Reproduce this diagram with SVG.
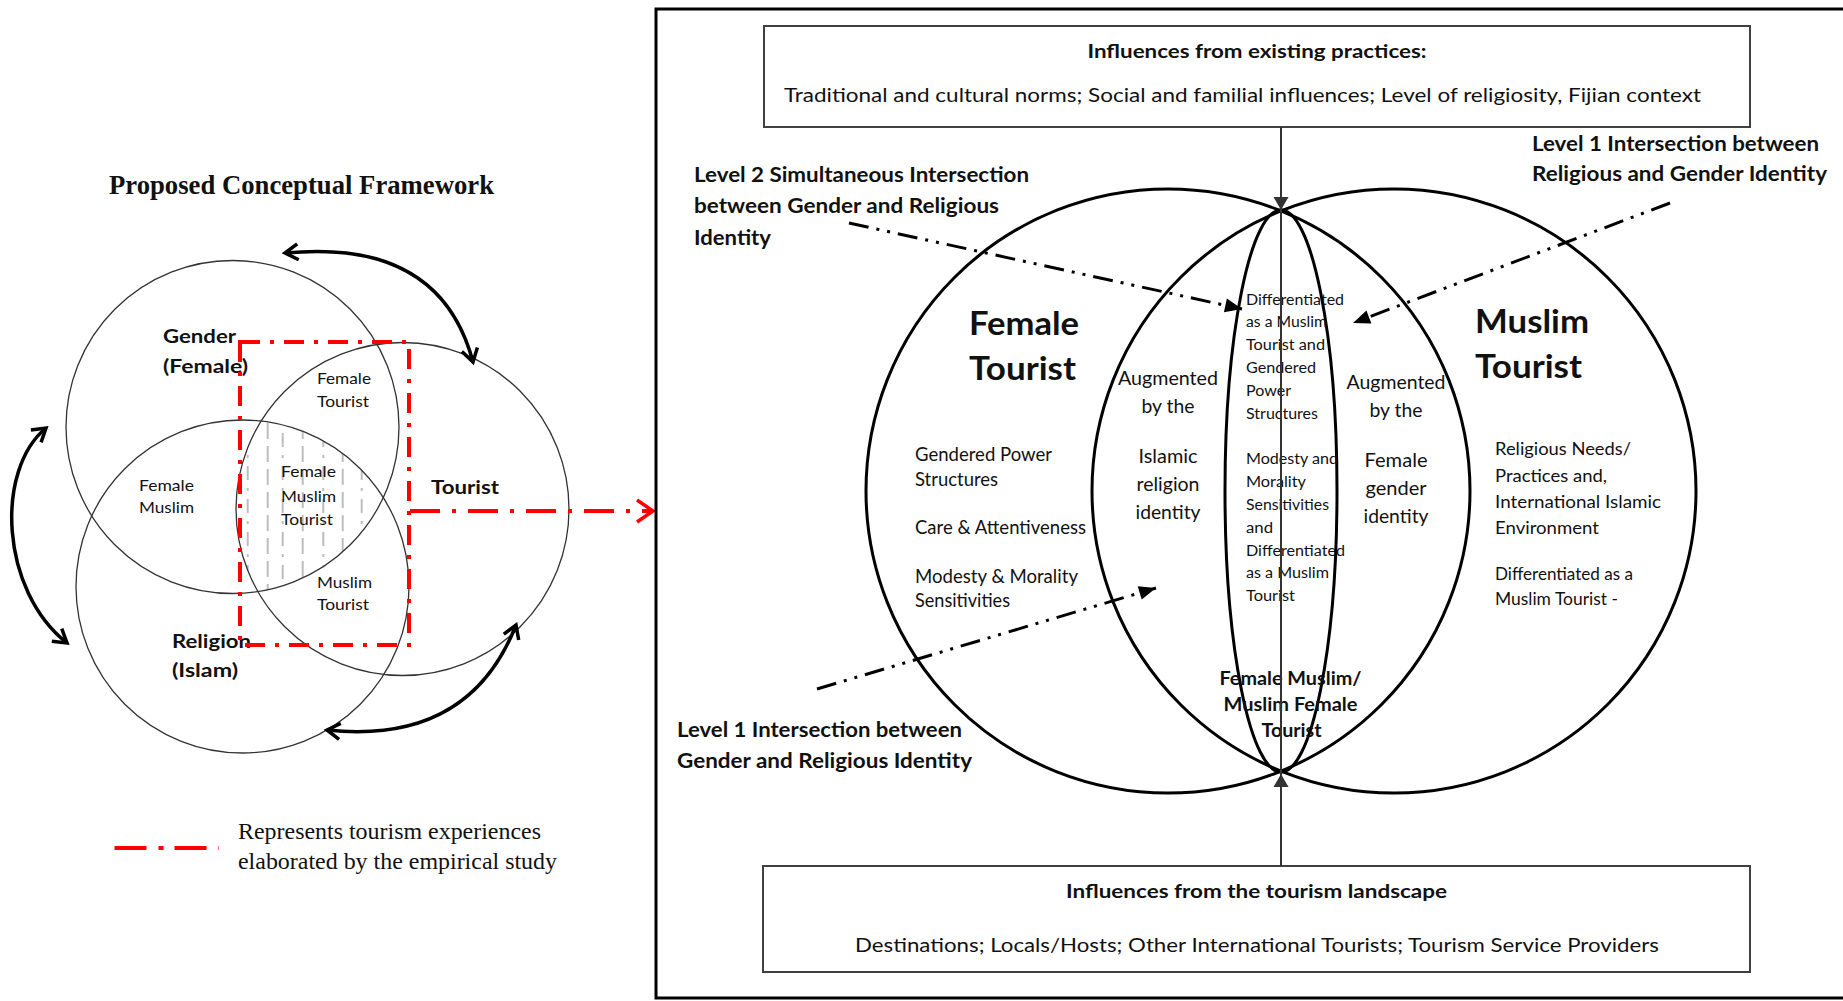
<svg xmlns="http://www.w3.org/2000/svg" width="1843" height="1001" viewBox="0 0 1843 1001">
  <style>
    .sans { font-family: Lato, 'Liberation Sans', sans-serif; fill: #111; }
    .b { font-weight: bold; }
    .serif { font-family: 'Liberation Serif', 'Times New Roman', serif; fill: #111; }
    .venn { fill: none; stroke: #333; stroke-width: 1.3; }
    .big { fill: none; stroke: #000; stroke-width: 3; }
    .box { fill: #fff; stroke: #404040; stroke-width: 2; }
    .red { fill: none; stroke: #ff0000; stroke-width: 4; }
    .curve { fill: none; stroke: #000; stroke-width: 3.5; marker-start: url(#chev); marker-end: url(#chev); }
    .dd { fill: none; stroke: #000; stroke-width: 3; stroke-dasharray: 20 8 3 8 3 8; marker-end: url(#tri); }
    .hatch { stroke: #bdbdbd; stroke-width: 2; }
    .mid { text-anchor: middle; }
  </style>
  <defs>
    <marker id="chev" markerUnits="userSpaceOnUse" orient="auto-start-reverse" overflow="visible" refX="0" refY="0">
      <path d="M-13,-8 L0,0 L-13,8" fill="none" stroke="#000" stroke-width="3.5"/>
    </marker>
    <marker id="redchev" markerUnits="userSpaceOnUse" orient="auto" overflow="visible" refX="0" refY="0">
      <path d="M-16,-11 L0,0 L-16,11" fill="none" stroke="#ff0000" stroke-width="3.5"/>
    </marker>
    <marker id="tri" markerUnits="userSpaceOnUse" orient="auto" overflow="visible" refX="0" refY="0">
      <path d="M-17,-7 L0,0 L-17,7 z" fill="#000"/>
    </marker>
    <marker id="gtri" markerUnits="userSpaceOnUse" orient="auto" overflow="visible" refX="0" refY="0">
      <path d="M-13,-7.5 L0,0 L-13,7.5 z" fill="#333"/>
    </marker>
    <clipPath id="cG"><circle cx="232.5" cy="427" r="166.5"/></clipPath>
    <clipPath id="cR"><circle cx="242.5" cy="586.5" r="166.5"/></clipPath>
    <clipPath id="cT"><circle cx="402.5" cy="509" r="166.5"/></clipPath>
  </defs>

  <rect width="1843" height="1001" fill="#fff"/>

  <!-- ===== Left panel: proposed framework ===== -->
  <text class="serif b" x="109" y="194" font-size="26.5" textLength="385" lengthAdjust="spacingAndGlyphs">Proposed Conceptual Framework</text>

  <!-- hatching of the triple overlap -->
  <g id="overlap-hatch" clip-path="url(#cG)">
    <g clip-path="url(#cR)">
      <g clip-path="url(#cT)">
        <line class="hatch" x1="247.7" y1="400" x2="247.7" y2="640" stroke-dasharray="14 8 3 8"/>
        <line class="hatch" x1="267.7" y1="400" x2="267.7" y2="640" stroke-dasharray="16 7"/>
        <line class="hatch" x1="282.7" y1="400" x2="282.7" y2="640" stroke-dasharray="14 8 3 8"/>
        <line class="hatch" x1="302.7" y1="400" x2="302.7" y2="640" stroke-dasharray="16 7"/>
        <line class="hatch" x1="323.3" y1="400" x2="323.3" y2="640" stroke-dasharray="14 8 3 8"/>
        <line class="hatch" x1="342.7" y1="400" x2="342.7" y2="640" stroke-dasharray="16 7"/>
        <line class="hatch" x1="361.7" y1="400" x2="361.7" y2="640" stroke-dasharray="14 8 3 8"/>
      </g>
    </g>
  </g>

  <g id="gender-circle"><circle class="venn" cx="232.5" cy="427" r="166.5"/></g>
  <g id="tourist-circle"><circle class="venn" cx="402.5" cy="509" r="166.5"/></g>
  <g id="religion-circle"><circle class="venn" cx="242.5" cy="586.5" r="166.5"/></g>

  <g id="venn-labels">
    <text class="sans b" x="163" y="343" font-size="19" textLength="73" lengthAdjust="spacingAndGlyphs">Gender</text>
    <text class="sans b" x="163" y="373" font-size="19" textLength="85" lengthAdjust="spacingAndGlyphs">(Female)</text>
    <text class="sans" x="317" y="384" font-size="15" textLength="54" lengthAdjust="spacingAndGlyphs">Female</text>
    <text class="sans" x="317" y="406.5" font-size="15" textLength="52" lengthAdjust="spacingAndGlyphs">Tourist</text>
    <text class="sans" x="139" y="491" font-size="15" textLength="55" lengthAdjust="spacingAndGlyphs">Female</text>
    <text class="sans" x="139" y="512.5" font-size="15" textLength="55" lengthAdjust="spacingAndGlyphs">Muslim</text>
    <text class="sans" x="281" y="477" font-size="15" textLength="55" lengthAdjust="spacingAndGlyphs">Female</text>
    <text class="sans" x="281" y="502" font-size="15" textLength="55" lengthAdjust="spacingAndGlyphs">Muslim</text>
    <text class="sans" x="281" y="524.5" font-size="15" textLength="52" lengthAdjust="spacingAndGlyphs">Tourist</text>
    <text class="sans" x="317" y="587.5" font-size="15" textLength="55" lengthAdjust="spacingAndGlyphs">Muslim</text>
    <text class="sans" x="317" y="610" font-size="15" textLength="52" lengthAdjust="spacingAndGlyphs">Tourist</text>
    <text class="sans b" x="431" y="494" font-size="19" textLength="68" lengthAdjust="spacingAndGlyphs">Tourist</text>
    <text class="sans b" x="172" y="648" font-size="19" textLength="79" lengthAdjust="spacingAndGlyphs">Religion</text>
    <text class="sans b" x="172" y="677" font-size="19" textLength="66" lengthAdjust="spacingAndGlyphs">(Islam)</text>
  </g>

  <!-- empirical scope outline and its link to the detailed model -->
  <g id="empirical-scope">
    <rect class="red" x="240" y="342" width="169" height="303" stroke-dasharray="20 10 4 10"/>
  </g>

  <g id="left-connectors">
    <path class="curve" d="M285,253 Q440,238 473,362"/>
    <path class="curve" d="M46,428 C-5,470 0,590 67,643"/>
    <path class="curve" d="M327,730 Q469,745 516,625"/>
    <line class="red" x1="410" y1="511" x2="653" y2="511" stroke-dasharray="30 12 4 12" marker-end="url(#redchev)"/>
  </g>

  <g id="legend">
    <line class="red" x1="114.5" y1="848" x2="219" y2="848" stroke-width="4.5" stroke-dasharray="32 12 5 11"/>
    <text class="serif" x="238" y="839" font-size="24" textLength="303" lengthAdjust="spacingAndGlyphs">Represents tourism experiences</text>
    <text class="serif" x="238" y="869" font-size="24" textLength="319" lengthAdjust="spacingAndGlyphs">elaborated by the empirical study</text>
  </g>

  <!-- ===== Right panel: detailed model ===== -->
  <path d="M1846,9 H656 V998 H1846" fill="none" stroke="#000" stroke-width="3"/>

  <g id="existing-practices">
    <rect class="box" x="764" y="26" width="986" height="101"/>
    <text class="sans b mid" x="1257" y="58" font-size="19.5" textLength="339" lengthAdjust="spacingAndGlyphs">Influences from existing practices:</text>
    <text class="sans" x="784" y="102" font-size="19.5" textLength="917" lengthAdjust="spacingAndGlyphs">Traditional and cultural norms; Social and familial influences; Level of religiosity, Fijian context</text>
  </g>

  <g id="tourism-landscape">
    <rect class="box" x="763" y="866" width="987" height="106"/>
    <text class="sans b mid" x="1256.5" y="898" font-size="19.5" textLength="381" lengthAdjust="spacingAndGlyphs">Influences from the tourism landscape</text>
    <text class="sans" x="855" y="952" font-size="19.5" textLength="804" lengthAdjust="spacingAndGlyphs">Destinations; Locals/Hosts; Other International Tourists; Tourism Service Providers</text>
  </g>

  <g id="female-tourist">
    <circle class="big" cx="1168" cy="491" r="302"/>
    <text class="sans b" x="969" y="335" font-size="32" textLength="110" lengthAdjust="spacingAndGlyphs">Female</text>
    <text class="sans b" x="969" y="380" font-size="32" textLength="107" lengthAdjust="spacingAndGlyphs">Tourist</text>
    <text class="sans" x="915" y="460.5" font-size="18.5" textLength="137" lengthAdjust="spacingAndGlyphs">Gendered Power</text>
    <text class="sans" x="915" y="486" font-size="18.5" textLength="83" lengthAdjust="spacingAndGlyphs">Structures</text>
    <text class="sans" x="915" y="534" font-size="18.5" textLength="171" lengthAdjust="spacingAndGlyphs">Care &amp; Attentiveness</text>
    <text class="sans" x="915" y="582.5" font-size="18.5" textLength="163" lengthAdjust="spacingAndGlyphs">Modesty &amp; Morality</text>
    <text class="sans" x="915" y="607" font-size="18.5" textLength="95" lengthAdjust="spacingAndGlyphs">Sensitivities</text>
  </g>

  <g id="muslim-tourist">
    <circle class="big" cx="1394" cy="491" r="302"/>
    <text class="sans b" x="1475" y="333" font-size="32" textLength="114" lengthAdjust="spacingAndGlyphs">Muslim</text>
    <text class="sans b" x="1475" y="378" font-size="32" textLength="107" lengthAdjust="spacingAndGlyphs">Tourist</text>
    <text class="sans" x="1495" y="455" font-size="18" textLength="136" lengthAdjust="spacingAndGlyphs">Religious Needs/</text>
    <text class="sans" x="1495" y="481.5" font-size="18" textLength="112" lengthAdjust="spacingAndGlyphs">Practices and,</text>
    <text class="sans" x="1495" y="508" font-size="18" textLength="166" lengthAdjust="spacingAndGlyphs">International Islamic</text>
    <text class="sans" x="1495" y="534" font-size="18" textLength="104" lengthAdjust="spacingAndGlyphs">Environment</text>
    <text class="sans" x="1495" y="580" font-size="18" textLength="138" lengthAdjust="spacingAndGlyphs">Differentiated as a</text>
    <text class="sans" x="1495" y="604.5" font-size="18" textLength="123" lengthAdjust="spacingAndGlyphs">Muslim Tourist -</text>
  </g>

  <g id="religion-augmented">
    <text class="sans mid" x="1168" y="385" font-size="20" textLength="100" lengthAdjust="spacingAndGlyphs">Augmented</text>
    <text class="sans mid" x="1168" y="413" font-size="20" textLength="53" lengthAdjust="spacingAndGlyphs">by the</text>
    <text class="sans mid" x="1168" y="463" font-size="20" textLength="59" lengthAdjust="spacingAndGlyphs">Islamic</text>
    <text class="sans mid" x="1168" y="491" font-size="20" textLength="63" lengthAdjust="spacingAndGlyphs">religion</text>
    <text class="sans mid" x="1168" y="519" font-size="20" textLength="65" lengthAdjust="spacingAndGlyphs">identity</text>
  </g>

  <g id="gender-augmented">
    <text class="sans mid" x="1396" y="389" font-size="20" textLength="99" lengthAdjust="spacingAndGlyphs">Augmented</text>
    <text class="sans mid" x="1396" y="417" font-size="20" textLength="53" lengthAdjust="spacingAndGlyphs">by the</text>
    <text class="sans mid" x="1396" y="466.5" font-size="20" textLength="63" lengthAdjust="spacingAndGlyphs">Female</text>
    <text class="sans mid" x="1396" y="495" font-size="20" textLength="61" lengthAdjust="spacingAndGlyphs">gender</text>
    <text class="sans mid" x="1396" y="523" font-size="20" textLength="65" lengthAdjust="spacingAndGlyphs">identity</text>
  </g>

  <g id="female-muslim-tourist">
    <ellipse class="big" cx="1281" cy="491" rx="56" ry="281"/>
    <text class="sans" x="1246" y="305" font-size="15.5" textLength="98" lengthAdjust="spacingAndGlyphs">Differentiated</text>
    <text class="sans" x="1246" y="327" font-size="15.5" textLength="81" lengthAdjust="spacingAndGlyphs">as a Muslim</text>
    <text class="sans" x="1246" y="350" font-size="15.5" textLength="79" lengthAdjust="spacingAndGlyphs">Tourist and</text>
    <text class="sans" x="1246" y="373" font-size="15.5" textLength="70" lengthAdjust="spacingAndGlyphs">Gendered</text>
    <text class="sans" x="1246" y="396" font-size="15.5" textLength="45" lengthAdjust="spacingAndGlyphs">Power</text>
    <text class="sans" x="1246" y="419" font-size="15.5" textLength="72" lengthAdjust="spacingAndGlyphs">Structures</text>
    <text class="sans" x="1246" y="464" font-size="15.5" textLength="92" lengthAdjust="spacingAndGlyphs">Modesty and</text>
    <text class="sans" x="1246" y="487" font-size="15.5" textLength="60" lengthAdjust="spacingAndGlyphs">Morality</text>
    <text class="sans" x="1246" y="510" font-size="15.5" textLength="83" lengthAdjust="spacingAndGlyphs">Sensitivities</text>
    <text class="sans" x="1246" y="533" font-size="15.5" textLength="27" lengthAdjust="spacingAndGlyphs">and</text>
    <text class="sans" x="1246" y="555.5" font-size="15.5" textLength="99" lengthAdjust="spacingAndGlyphs">Differentiated</text>
    <text class="sans" x="1246" y="578" font-size="15.5" textLength="83" lengthAdjust="spacingAndGlyphs">as a Muslim</text>
    <text class="sans" x="1246" y="601" font-size="15.5" textLength="49" lengthAdjust="spacingAndGlyphs">Tourist</text>
    <text class="sans b mid" x="1290.5" y="685" font-size="18.5" textLength="142" lengthAdjust="spacingAndGlyphs">Female Muslim/</text>
    <text class="sans b mid" x="1290.5" y="711" font-size="18.5" textLength="134" lengthAdjust="spacingAndGlyphs">Muslim Female</text>
    <text class="sans b mid" x="1291.5" y="737" font-size="18.5" textLength="60" lengthAdjust="spacingAndGlyphs">Tourist</text>
  </g>

  <g id="level-labels">
    <text class="sans b" x="694" y="182" font-size="20" textLength="335" lengthAdjust="spacingAndGlyphs">Level 2 Simultaneous Intersection</text>
    <text class="sans b" x="694" y="213" font-size="20" textLength="305" lengthAdjust="spacingAndGlyphs">between Gender and Religious</text>
    <text class="sans b" x="694" y="245" font-size="20" textLength="77" lengthAdjust="spacingAndGlyphs">Identity</text>
    <text class="sans b" x="1532" y="150.5" font-size="20" textLength="287" lengthAdjust="spacingAndGlyphs">Level 1 Intersection between</text>
    <text class="sans b" x="1532" y="181" font-size="20" textLength="295" lengthAdjust="spacingAndGlyphs">Religious and Gender Identity</text>
    <text class="sans b" x="677" y="737" font-size="20" textLength="285" lengthAdjust="spacingAndGlyphs">Level 1 Intersection between</text>
    <text class="sans b" x="677" y="768" font-size="20" textLength="295" lengthAdjust="spacingAndGlyphs">Gender and Religious Identity</text>
  </g>

  <g id="connectors">
    <line x1="1281" y1="127" x2="1281" y2="210" stroke="#333" stroke-width="2" marker-end="url(#gtri)"/>
    <line x1="1281" y1="210" x2="1281" y2="774" stroke="#333" stroke-width="2"/>
    <line x1="1281" y1="866" x2="1281" y2="774" stroke="#333" stroke-width="2" marker-end="url(#gtri)"/>
    <line class="dd" x1="849" y1="223" x2="1242" y2="309"/>
    <line class="dd" x1="1670" y1="203" x2="1353" y2="323"/>
    <line class="dd" x1="817" y1="689" x2="1156" y2="588"/>
  </g>
</svg>
